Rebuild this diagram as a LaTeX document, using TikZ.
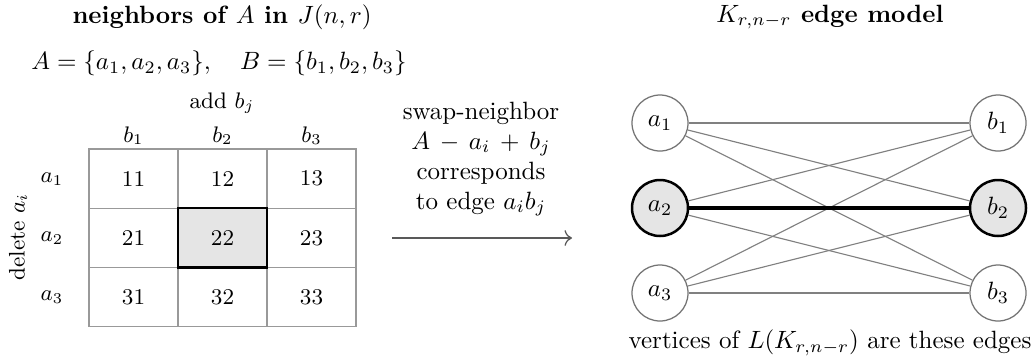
\documentclass[tikz,border=0pt]{standalone}
\usetikzlibrary{arrows.meta}
\begin{document}
\begin{tikzpicture}[x=0.4pt,y=-0.4pt,
  cell/.style={draw=gray!80, line width=0.5pt, minimum width=35.6pt, minimum height=23.7pt, inner sep=0pt, font=\small},
  hicell/.style={cell, draw=black, fill=gray!20, line width=1pt},
  lab/.style={font=\small, inner sep=1pt},
  vert/.style={circle, draw=gray!90!black, line width=0.5pt, minimum size=22.4pt, inner sep=0pt, fill=white},
  hivert/.style={vert, draw=black, fill=gray!20, line width=1pt},
  kedge/.style={draw=gray, line width=0.45pt},
  hiedge/.style={draw=black, line width=1.3pt},
  title/.style={font=\bfseries, inner sep=0pt}]
\useasboundingbox (0,0) rectangle (1032,361);
% left titles
\node[title] (t1) at (222,17) {neighbors of $A$ in $J(n,r)$};
\node[inner sep=0pt] (sets) at (219,63) {$A=\{a_1,a_2,a_3\},\quad B=\{b_1,b_2,b_3\}$};
\node[lab] (add) at (222,103) {add $b_j$};
\node[lab, rotate=90] (del) at (18,237) {delete $a_i$};
% column headers
\node[lab, anchor=base] (hb1) at (133.5,142) {$b_1$};
\node[lab, anchor=base] (hb2) at (222.5,142) {$b_2$};
\node[lab, anchor=base] (hb3) at (311.5,142) {$b_3$};
% row labels
\node[lab] (ra1) at (52,179) {$a_1$};
\node[lab] (ra2) at (52,238) {$a_2$};
\node[lab] (ra3) at (52,297) {$a_3$};
% table cells
\node[cell] (c11) at (133.5,178.5) {11};
\node[cell] (c12) at (222.5,178.5) {12};
\node[cell] (c13) at (311.5,178.5) {13};
\node[cell] (c21) at (133.5,237.8) {21};
\node[cell] (c23) at (311.5,237.8) {23};
\node[cell] (c31) at (133.5,297.2) {31};
\node[cell] (c32) at (222.5,297.2) {32};
\node[cell] (c33) at (311.5,297.2) {33};
\node[hicell] (c22) at (222.5,237.8) {22};
% middle text and arrow
\node[align=center, inner sep=0pt] (mid) at (481,159) {swap-neighbor\\$A\,-\,a_i\,+\,b_j$\\corresponds\\to edge $a_ib_j$};
\coordinate (ar1) at (392,238);
\coordinate (ar2) at (572,238);
\draw[gray!70!black, line width=0.5pt, -{To[length=3pt]}] (ar1) -- (ar2);
% right title
\node[title] (t2) at (830,17) {$K_{r,n-r}$ edge model};
% bipartite graph
\node[vert] (a1) at (660,123) {$a_1$};
\node[hivert] (a2) at (660,208) {$a_2$};
\node[vert] (a3) at (660,293) {$a_3$};
\node[vert] (b1) at (998,123) {$b_1$};
\node[hivert] (b2) at (998,208) {$b_2$};
\node[vert] (b3) at (998,293) {$b_3$};
\foreach \u/\v in {a1/b1,a1/b2,a1/b3,a2/b1,a2/b3,a3/b1,a3/b2,a3/b3}
  \draw[kedge] (\u) -- (\v);
\draw[hiedge] (a2) -- (b2);
\node[inner sep=0pt] (cap) at (830,343) {vertices of $L(K_{r,n-r})$ are these edges};
\end{tikzpicture}
\end{document}
